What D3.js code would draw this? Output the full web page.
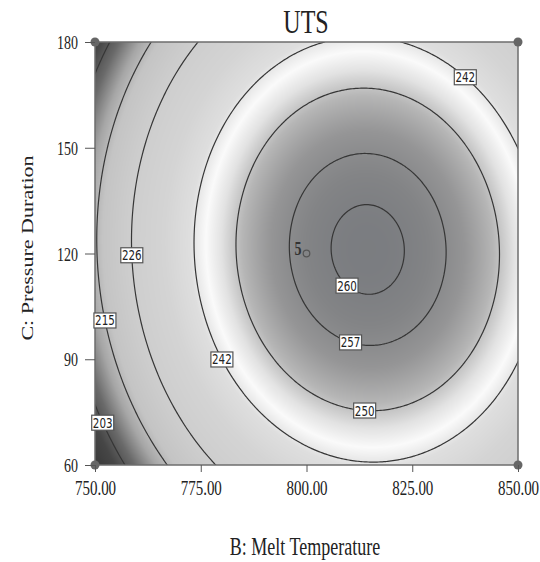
<!DOCTYPE html>
<html>
<head>
<meta charset="utf-8">
<script src="https://cdn.jsdelivr.net/npm/d3@7"></script>
<style>
  body { margin: 0; background: #fff; }
  text { font-family: "Liberation Serif", "Times New Roman", serif; fill: #222; }
</style>
</head>
<body>
<div id="chart"></div>
<script>
// fitted UTS model in coded factors: B = (T - 800) / 50, C = (t - 120) / 60
var terms = ["Intercept", "B", "C", "BC", "B^2", "C^2"];
var coefs = [258.48, 16.21, 1.12, -1.4, -27.95, -18.65];

var meltTicks = [750, 775, 800, 825, 850];
var durTicks = [60, 90, 120, 150, 180];
var levels = [203, 215, 226, 242, 250, 257, 260];

// contour label anchors (level, approx. B, approx. C) - snapped onto the line
var labelLevels = [242, 226, 215, 203, 242, 260, 257, 250];
var labelB = [838.7, 759, 752.6, 753, 781.4, 811, 811, 813.8];
var labelC = [171.5, 119.3, 101, 72.8, 90.6, 112.8, 97.4, 78.4];

// design centre point and its replicate count
var designB = [800], designC = [120], designN = [5];

var width = 540, height = 562;
var stretch = 1.38; // text in the picture is tall and narrow

var x = d3.scaleLinear().domain([750, 850]).range([95, 518]);
var y = d3.scaleLinear().domain([60, 180]).range([465, 42]);

function uts(b, c) {
  var xb = (b - 800) / 50, xc = (c - 120) / 60;
  var t = [1, xb, xc, xb * xc, xb * xb, xc * xc];
  return d3.sum(t, function(v, i) { return v * coefs[i]; });
}

// grey ramp (rainbow map printed in greyscale)
var shade = d3.scaleLinear()
  .domain([190, 200, 206, 212, 217, 225, 235, 241, 244.5, 247.5, 251, 255, 258.5, 261])
  .range(["#323232", "#464646", "#6a6a6a", "#a6a6a6", "#c4c4c4", "#cdcdcd", "#d4d4d4",
          "#dedede", "#fafafa", "#e2e2e2", "#b6b6b6", "#959596", "#838486", "#7a7c80"])
  .clamp(true);

var svg = d3.select("#chart")
  .append("svg")
    .attr("width", width)
    .attr("height", height);

// shaded surface
var pw = 423, ph = 423;
var canvas = document.createElement("canvas");
canvas.width = pw; canvas.height = ph;
var ctx = canvas.getContext("2d");
var img = ctx.createImageData(pw, ph);
for (var j = 0; j < ph; j++) {
  for (var i = 0; i < pw; i++) {
    var col = d3.rgb(shade(uts(x.invert(95 + i + 0.5), y.invert(42 + j + 0.5))));
    var k = (j * pw + i) * 4;
    img.data[k] = col.r; img.data[k + 1] = col.g; img.data[k + 2] = col.b; img.data[k + 3] = 255;
  }
}
ctx.putImageData(img, 0, 0);

svg.append("image")
  .attr("x", 95).attr("y", 42)
  .attr("width", pw).attr("height", ph)
  .attr("preserveAspectRatio", "none")
  .attr("href", canvas.toDataURL());

svg.append("clipPath").attr("id", "plot-clip")
  .append("rect").attr("x", 95).attr("y", 42).attr("width", pw).attr("height", ph);

// contour lines
var n = 241, m = 241;
var grid = new Array(n * m);
for (var gj = 0; gj < m; gj++) {
  for (var gi = 0; gi < n; gi++) {
    grid[gj * n + gi] = uts(750 + gi * 100 / (n - 1), 60 + gj * 120 / (m - 1));
  }
}
function gx(v) { return x(750 + (v - 0.5) * 100 / (n - 1)); }
function gy(v) { return y(60 + (v - 0.5) * 120 / (m - 1)); }

var contours = d3.contours().size([n, m]).thresholds(levels)(grid);
var path = d3.geoPath(d3.geoTransform({
  point: function(px, py) { this.stream.point(gx(px), gy(py)); }
}));

var g = svg.append("g").attr("clip-path", "url(#plot-clip)");
g.selectAll("path")
  .data(contours)
  .enter()
  .append("path")
    .attr("d", path)
    .attr("fill", "none")
    .attr("stroke", "#363636")
    .attr("stroke-width", 1.2);

// plot frame
svg.append("rect")
  .attr("x", 95).attr("y", 42).attr("width", pw).attr("height", ph)
  .attr("fill", "none").attr("stroke", "#6e6e6e").attr("stroke-width", 1.5);

// contour labels
var labels = labelLevels.map(function(lv, i) {
  var tx = x(labelB[i]), ty = y(labelC[i]);
  var cont = contours.find(function(c) { return c.value === lv; });
  var best = [tx, ty], bd = Infinity;
  cont.coordinates.forEach(function(poly) {
    poly.forEach(function(ring) {
      ring.forEach(function(p) {
        var px = gx(p[0]), py = gy(p[1]);
        if (px < 96 || px > 517 || py < 43 || py > 464) return;
        var d = (px - tx) * (px - tx) + (py - ty) * (py - ty);
        if (d < bd) { bd = d; best = [px, py]; }
      });
    });
  });
  return {value: lv, px: best[0], py: best[1]};
});

var lab = svg.append("g").selectAll("g")
  .data(labels)
  .enter()
  .append("g")
    .attr("transform", function(d) { return "translate(" + d.px + "," + d.py + ")"; });

lab.append("rect")
  .attr("x", -11).attr("y", -7.5)
  .attr("width", 22).attr("height", 15)
  .attr("fill", "#fff")
  .attr("stroke", "#555")
  .attr("stroke-width", 1.2);

lab.append("text")
  .text(function(d) { return d.value; })
  .attr("text-anchor", "middle")
  .attr("transform", "translate(0,5) scale(1," + 1.3 + ")")
  .style("font-family", "'Liberation Sans Narrow', 'DejaVu Sans Condensed', sans-serif")
  .style("font-size", "11.5px")
  .style("fill", "#222");

// design point
var dp = svg.append("g");
dp.selectAll("circle")
  .data(designB)
  .enter()
  .append("circle")
    .attr("cx", function(d) { return x(d); })
    .attr("cy", function(d, i) { return y(designC[i]); })
    .attr("r", 3.3)
    .attr("fill", "none")
    .attr("stroke", "#555")
    .attr("stroke-width", 1.2);
dp.selectAll("text")
  .data(designN)
  .enter()
  .append("text")
    .text(function(d) { return d; })
    .attr("text-anchor", "end")
    .attr("transform", function(d, i) {
      return "translate(" + (x(designB[i]) - 5) + "," + (y(designC[i]) + 1) + ") scale(1," + stretch + ")";
    })
    .style("font-size", "14px")
    .style("font-weight", "bold")
    .style("fill", "#333");

// corner markers
var corners = [[750, 60], [750, 180], [850, 60], [850, 180]];
svg.append("g").selectAll("circle")
  .data(corners)
  .enter()
  .append("circle")
    .attr("cx", function(d) { return x(d[0]); })
    .attr("cy", function(d) { return y(d[1]); })
    .attr("r", 4.5)
    .attr("fill", "#666");

// axes
var xAxis = svg.append("g")
  .attr("transform", "translate(0,465)")
  .call(d3.axisBottom(x).tickValues(meltTicks).tickFormat(d3.format(".2f")).tickSize(7));
xAxis.select(".domain").remove();
xAxis.selectAll("line").attr("stroke", "#555");
xAxis.selectAll("text")
  .attr("y", null).attr("dy", null)
  .attr("transform", "translate(0,30) scale(1," + stretch + ")")
  .style("font-family", "'Liberation Serif', serif")
  .style("font-size", "15px")
  .style("fill", "#222");

var yAxis = svg.append("g")
  .attr("transform", "translate(95,0)")
  .call(d3.axisLeft(y).tickValues(durTicks).tickSize(10));
yAxis.select(".domain").remove();
yAxis.selectAll("line").attr("stroke", "#555");
yAxis.selectAll("text")
  .attr("x", null).attr("dy", null)
  .attr("transform", "translate(-17,6.5) scale(1," + stretch + ")")
  .style("font-family", "'Liberation Serif', serif")
  .style("font-size", "14px")
  .style("fill", "#222");

// titles
svg.append("text")
  .text("UTS")
  .attr("text-anchor", "middle")
  .attr("transform", "translate(306,33) scale(1," + stretch + ")")
  .style("font-size", "24px");

svg.append("text")
  .text("B: Melt Temperature")
  .attr("text-anchor", "middle")
  .attr("transform", "translate(305,555) scale(1," + stretch + ")")
  .style("font-size", "18px");

svg.append("text")
  .text("C: Pressure Duration")
  .attr("text-anchor", "middle")
  .attr("transform", "translate(33,248) rotate(-90) scale(1.3,1)")
  .style("font-size", "17px");
</script>
</body>
</html>
